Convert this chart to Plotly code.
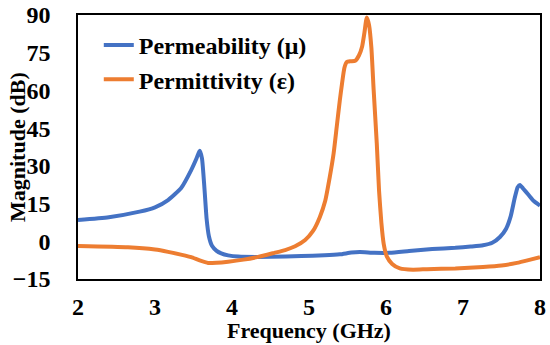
import plotly.graph_objects as go

# Permeability (mu)
mu_freq = [2.0, 2.4, 2.8, 3.0, 3.17, 3.34, 3.47, 3.54, 3.58, 3.61, 3.64, 3.67, 3.70, 3.74, 3.80,
           3.86, 3.95, 4.08, 4.5, 4.9, 5.2, 5.4, 5.55, 5.66, 5.85, 6.05, 6.3, 6.6, 6.9, 7.1,
           7.26, 7.38, 7.48, 7.56, 7.62, 7.67, 7.71, 7.74, 7.78, 7.85, 7.92, 8.0]
mu_mag = [8.5, 9.6, 11.8, 13.5, 16.4, 21.2, 28.3, 33, 36, 33, 22, 9, 2, -1.8, -3.8,
          -4.8, -5.6, -6.1, -6.2, -5.9, -5.6, -5.2, -4.5, -4.3, -4.6, -4.6, -3.9, -3.1, -2.6, -2.1,
          -1.6, -0.6, 1.7, 5, 10, 17, 21.5, 22.4, 21, 18.5, 16, 14.2]

# Permittivity (epsilon)
eps_freq = [2.0, 2.65, 3.0, 3.17, 3.35, 3.47, 3.58, 3.69, 3.8, 3.95, 4.15, 4.34, 4.55, 4.69, 4.82,
            4.95, 5.05, 5.14, 5.21, 5.27, 5.32, 5.36, 5.40, 5.43, 5.46, 5.49, 5.54, 5.60, 5.65,
            5.69, 5.72, 5.75, 5.78, 5.81, 5.84, 5.88, 5.91, 5.94, 5.97, 6.01, 6.08, 6.18, 6.35,
            6.53, 6.9, 7.26, 7.5, 7.7, 7.85, 8.0]
eps_mag = [-1.9, -2.4, -3.3, -4.2, -5.4, -6.3, -7.6, -8.6, -8.5, -8.1, -7.3, -6.2, -4.6, -3.5, -2,
           0.5, 4, 9.6, 16, 25.6, 35, 45.5, 56, 63, 69, 71.3, 71.6, 71.8, 74,
           77.5, 83, 89, 86, 77, 60, 39, 20, 7.3, -1, -6, -9, -10.8, -11.3,
           -11.1, -10.8, -10.2, -9.6, -8.6, -7.5, -6.3]

x_ticks = [2, 3, 4, 5, 6, 7, 8]
y_ticks = [-15, 0, 15, 30, 45, 60, 75, 90]
x_title = "Frequency (GHz)"
y_title = "Magnitude (dB)"

FONT = "Liberation Serif, Times New Roman, serif"

fig = go.Figure()
fig.add_trace(go.Scatter(x=mu_freq, y=mu_mag, mode="lines", name="Permeability (\u03bc)",
                         line=dict(color="#4472C4", width=4, shape="spline", smoothing=0.5)))
fig.add_trace(go.Scatter(x=eps_freq, y=eps_mag, mode="lines", name="Permittivity (\u03b5)",
                         line=dict(color="#ED7D31", width=4, shape="spline", smoothing=0.5)))

fig.update_layout(
    width=550, height=345,
    margin=dict(l=78, r=10, t=15, b=66),
    paper_bgcolor="white", plot_bgcolor="white",
    font=dict(family=FONT, size=24, color="black", weight="bold"),
    showlegend=True,
    legend=dict(x=0.045, y=0.97, xanchor="left", yanchor="top", bgcolor="rgba(0,0,0,0)",
                font=dict(family=FONT, size=24, color="black", weight="bold"),
                tracegroupgap=0),
    annotations=[
        dict(text=x_title, xref="paper", yref="paper", x=0.5, y=0, yshift=-51,
             xanchor="center", yanchor="middle", showarrow=False,
             font=dict(family=FONT, size=22, color="black", weight="bold")),
        dict(text=y_title, xref="paper", yref="paper", x=0, y=0.5, xshift=-61,
             xanchor="center", yanchor="middle", textangle=-90, showarrow=False,
             font=dict(family=FONT, size=22, color="black", weight="bold")),
    ],
)
fig.update_xaxes(range=[2, 8], tickvals=x_ticks, showgrid=False, zeroline=False,
                 showline=True, mirror=True, linecolor="black", linewidth=1.5,
                 ticks="", ticklabelstandoff=5, automargin=False)
fig.update_yaxes(range=[-15, 90], tickvals=y_ticks, showgrid=False, zeroline=False,
                 showline=True, mirror=True, linecolor="black", linewidth=1.5,
                 ticks="", ticklabelstandoff=21, automargin=False)

# remove the browser's default 8px body margin so the 550x345 figure fills the window
fig.write_html("out.html", config={"displayModeBar": False},
               post_script="document.body.style.margin='0px';")
